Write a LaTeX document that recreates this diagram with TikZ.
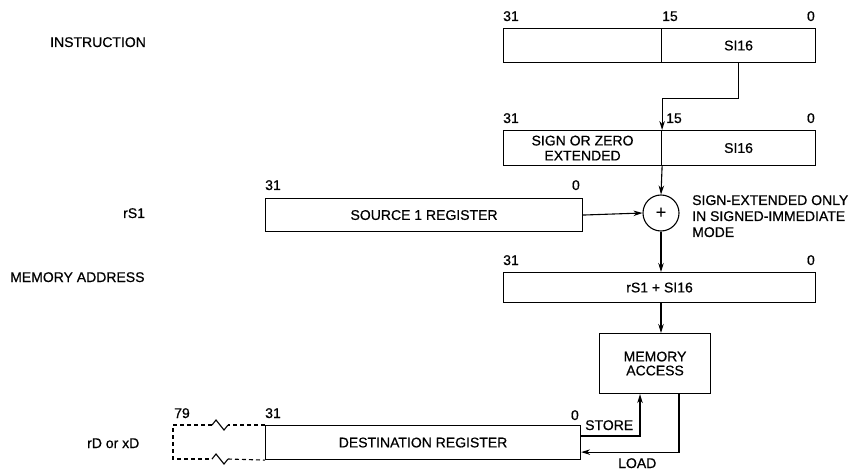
\documentclass[tikz,border=0pt]{standalone}
\usepackage{fontspec}
\setmainfont{Liberation Sans}[FakeBold=0.6]
\usetikzlibrary{arrows.meta,calc}
\newcommand\fsz{\fontsize{14}{15}\selectfont}
\begin{document}
\begin{tikzpicture}[x=1pt,y=-1pt,
  box/.style={draw, line width=1.1pt, inner sep=0pt, anchor=north west, align=center, font=\fsz},
  lbl/.style={inner sep=0pt, font=\fsz},
  conn/.style={line width=1.1pt},
  arr/.style={line width=1.1pt, -{Stealth[length=9pt,width=5.5pt]}},
  dsh/.style={line width=1.1pt, dash pattern=on 4pt off 3pt}]
\useasboundingbox (0,0) rectangle (853,470);
% instruction
\node[box, minimum width=158pt, minimum height=34pt] (insL) at (503,28) {};
\node[box, minimum width=154pt, minimum height=34pt] (insR) at (661,28) {SI16};
\node[lbl, anchor=base west] (b31a) at (503,21) {31};
\node[lbl, anchor=base west] (b15a) at (662,21) {15};
\node[lbl, anchor=base east] (b0a) at (815,21) {0};
\node[lbl, anchor=base west] (tins) at (50,47) {INSTRUCTION};
% sign extended
\node[box, minimum width=158pt, minimum height=35pt] (sgnL) at (503,130) {SIGN OR ZERO\\[0pt]EXTENDED};
\node[box, minimum width=154pt, minimum height=35pt] (sgnR) at (661,130) {SI16};
\node[lbl, anchor=base west] (b31b) at (503,123) {31};
\node[lbl, anchor=base west] (b15b) at (666,123) {15};
\node[lbl, anchor=base east] (b0b) at (815,123) {0};
% adder
\node[draw, circle, line width=1.1pt, minimum size=36pt, inner sep=0pt, font=\fontsize{18}{18}\selectfont] (add) at (661,213) {+};
\node[lbl, anchor=north west, align=left, font=\fontsize{14}{16}\selectfont] (note) at (692,195) {SIGN-EXTENDED ONLY\\IN SIGNED-IMMEDIATE\\MODE};
% source register
\node[box, minimum width=317pt, minimum height=33pt] (src) at (265,198) {SOURCE 1 REGISTER};
\node[lbl, anchor=base west] (b31c) at (265,190) {31};
\node[lbl, anchor=base east] (b0c) at (580,190) {0};
\node[lbl, anchor=base west] (trs) at (123,218) {rS1};
% memory address
\node[box, minimum width=312pt, minimum height=30pt] (mem) at (503,272) {rS1 + SI16};
\node[lbl, anchor=base west] (b31d) at (503,265) {31};
\node[lbl, anchor=base east] (b0d) at (815,265) {0};
\node[lbl, anchor=base west] (tma) at (10,282) {MEMORY ADDRESS};
% memory access
\node[box, minimum width=111pt, minimum height=60pt] (acc) at (599,333) {MEMORY\\[-1pt]ACCESS};
% destination register
\node[box, minimum width=315pt, minimum height=34pt] (dst) at (265,425) {DESTINATION REGISTER};
\node[lbl, anchor=base west] (b79) at (174,418) {79};
\node[lbl, anchor=base west] (b31e) at (265,418) {31};
\node[lbl, anchor=base east] (b0e) at (579,420) {0};
\node[lbl, anchor=base west] (trd) at (87,448) {rD or xD};
\node[lbl, anchor=base west] (tst) at (585,430) {STORE};
\node[lbl, anchor=base west] (tld) at (618,468) {LOAD};
% connectors
\draw[arr] (insR.south) -- ++(0,35) -| (sgnL.north east);
\draw[arr] (sgnL.south east) -- (add.north);
\draw[arr] (src.east) -- (add.west);
\draw[arr] (add.south) -- (add |- mem.north);
\draw[arr] (add |- mem.south) -- (add |- acc.north);
\draw[arr] ($(dst.north east)+(0,11)$) -| ([xshift=41pt]acc.south west);
\draw[arr] ([xshift=80pt]acc.south west) |- ($(dst.south east)+(0,-8)$);
% dashed extension with break marks
\draw[dsh] (dst.north west) -- (228,425);
\draw[conn] (228,425) -- (224,430) -- (216,420) -- (212,425);
\draw[dsh] (212,425) -- (173,425) -- (173,459) -- (212,459);
\draw[conn] (212,459) -- (216,454) -- (224,464) -- (228,459);
\draw[dsh] (228,459) -- (dst.south west);
\end{tikzpicture}
\end{document}
